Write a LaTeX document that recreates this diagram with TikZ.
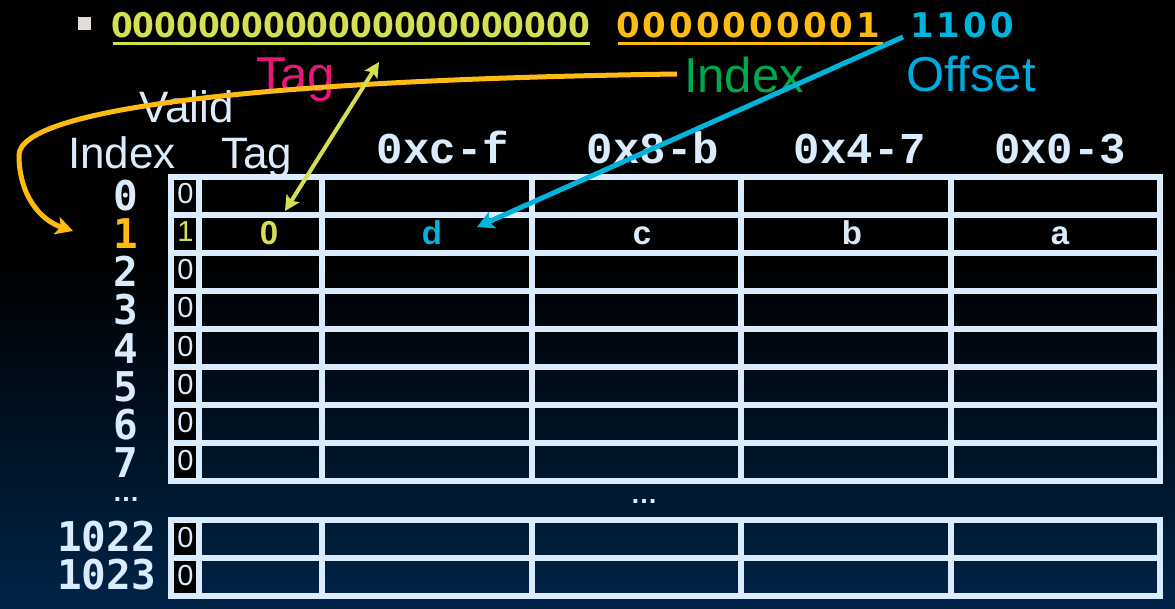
\documentclass[tikz,border=0pt]{standalone}
\usepackage{fontspec}
\setmainfont{Liberation Sans}
\newfontfamily\digy{DejaVu Sans}[FakeStretch=0.92]
\newfontfamily\digo{DejaVu Sans}[LetterSpace=9]
\newfontfamily\rowf{DejaVu Sans Mono}
\newfontfamily\hdrf{Liberation Mono}
\usetikzlibrary{arrows.meta}
\definecolor{lightc}{RGB}{218,236,252}
\definecolor{yg}{RGB}{212,224,82}
\definecolor{orng}{RGB}{255,186,20}
\definecolor{cyn}{RGB}{0,180,220}
\definecolor{offc}{RGB}{0,170,222}
\definecolor{mag}{RGB}{232,22,122}
\definecolor{grn}{RGB}{0,168,80}
\definecolor{navyb}{RGB}{0,36,72}
\definecolor{bulc}{RGB}{226,220,214}
\begin{document}
\begin{tikzpicture}[x=1pt,y=-1pt,
  every node/.style={inner sep=0pt,outer sep=0pt},
  gridl/.style={draw=lightc,line width=6pt},
  bits/.style={anchor=base west,font=\fontsize{34}{34}\selectfont\bfseries},
  biglab/.style={anchor=base west,font=\fontsize{49}{49}\selectfont},
  collab/.style={anchor=base west,font=\fontsize{44}{44}\selectfont,text=lightc},
  hexlab/.style={anchor=base,font=\hdrf\fontsize{44}{44}\selectfont\bfseries,text=lightc},
  rowlab/.style={anchor=base east,font=\rowf\fontsize{41}{41}\selectfont\bfseries},
  validtxt/.style={anchor=base,font=\fontsize{29}{29}\selectfont},
  celltxt/.style={anchor=base,font=\fontsize{33}{33}\selectfont\bfseries},
  dots/.style={anchor=base,font=\fontsize{27}{27}\selectfont\bfseries,text=lightc},
  tipA/.style={-{Stealth[length=17pt,width=18pt,inset=4pt]}},
  tipY/.style={{Stealth[length=15pt,width=15pt,inset=3pt]}-{Stealth[length=15pt,width=15pt,inset=3pt]}}
]
\useasboundingbox (0,0) rectangle (1175,609);
% background
\fill[black] (0,0) rectangle (1175,261);
\shade[top color=black,bottom color=navyb] (0,260) rectangle (1175,609);

% bullet
\fill[bulc] (78,17) rectangle (91,30);

% address bits
\node[bits,text=yg] (tagbits) at (111,38) {\digy 0000000000000000000000};
\node[bits,text=orng] (idxbits) at (616,38) {\digo 0000000001};
\node[bits,text=cyn] (offbits) at (910,38) {\digo 1100};
\draw[yg,line width=3pt] (113,44) -- (590,44);
\draw[orng,line width=3pt] (618,44) -- (883,44);

% field labels
\node[biglab,text=mag] (tagname) at (256,92) {Tag};
\node[biglab,text=grn] (idxname) at (684,93) {Index};
\node[biglab,text=offc] (offname) at (906,92) {Offset};

% column labels
\node[collab] (validh) at (139,123) {Valid};
\node[collab] (indexh) at (68,169) {Index};
\node[collab] (tagh) at (221,169) {Tag};
\node[hexlab] (hcf) at (443,164) {0xc-f};
\node[hexlab] (h8b) at (653,164) {0x8-b};
\node[hexlab] (h47) at (860,164) {0x4-7};
\node[hexlab] (h03) at (1060,164) {0x0-3};

% valid cell backgrounds
\foreach \k in {0,...,7}{
  \fill[black] (174,{180+38*\k}) rectangle (196,{212+38*\k});
}
\foreach \t in {523,561}{
  \fill[black] (174,\t) rectangle (196,{\t+32});
}

% grid, upper block
\draw[gridl] (171,177) rectangle (1160,481);
\foreach \k in {1,...,7}{
  \draw[gridl] (171,{177+38*\k}) -- (1160,{177+38*\k});
}
\foreach \xx in {199,322,532,741,951}{
  \draw[gridl] (\xx,177) -- (\xx,481);
}
% grid, lower block
\draw[gridl] (171,520) rectangle (1160,596);
\draw[gridl] (171,558) -- (1160,558);
\foreach \xx in {199,322,532,741,951}{
  \draw[gridl] (\xx,520) -- (\xx,596);
}

% row labels and valid bits
\foreach \k/\c in {0/lightc,1/orng,2/lightc,3/lightc,4/lightc,5/lightc,6/lightc,7/lightc}{
  \node[rowlab,text=\c] (row\k) at (138,{196+38*\k+15}) {\k};
}
\foreach \k/\v/\c in {0/0/lightc,1/1/yg,2/0/lightc,3/0/lightc,4/0/lightc,5/0/lightc,6/0/lightc,7/0/lightc}{
  \node[validtxt,text=\c] (v\k) at (185.5,{177+38*\k+27}) {\v};
}
\node[dots] (ldots) at (126,501) {…};
\node[dots] (mdots) at (644,503) {…};
\node[rowlab,text=lightc] (row1022) at (156,551) {1022};
\node[rowlab,text=lightc] (row1023) at (156,589) {1023};
\node[validtxt,text=lightc] (v1022) at (185.5,547) {0};
\node[validtxt,text=lightc] (v1023) at (185.5,585) {0};

% row 1 contents
\node[celltxt,text=yg] (tag1) at (269,245) {0};
\node[celltxt,text=cyn] (dd) at (432,245) {d};
\node[celltxt,text=lightc] (cc) at (642,245) {c};
\node[celltxt,text=lightc] (bb) at (852,245) {b};
\node[celltxt,text=lightc] (aa) at (1060,245) {a};

% connectors
\coordinate (oS) at (677,74);
\coordinate (oE) at (73,231);
\draw[orng,line width=5pt,tipA] (oS) .. controls (250,80) and (20,110) .. (19,155)
      .. controls (19,195) and (40,220) .. (oE);
\coordinate (yA) at (379,62);
\coordinate (yB) at (285,211);
\draw[yg,line width=4pt,tipY] (yA) -- (yB);
\coordinate (cA) at (903,37);
\coordinate (cB) at (477,227);
\draw[cyn,line width=5pt,tipA] (cA) -- (cB);
\end{tikzpicture}
\end{document}
